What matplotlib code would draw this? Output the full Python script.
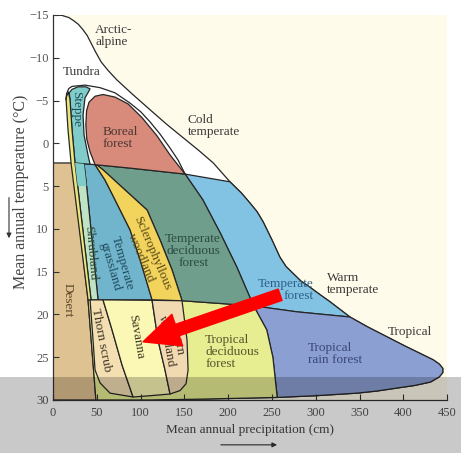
import matplotlib
matplotlib.use("Agg")
import matplotlib.pyplot as plt
from matplotlib.patches import Polygon, Rectangle, FancyArrowPatch

# ------------------------------------------------------------
#   DATA  (precipitation cm, temperature C) for every biome outline
# ------------------------------------------------------------
envelope = [(0, -15), (10, -14.95), (18, -14.7), (24, -14.3), (29, -13.9), (34, -13.3),
            (39, -12.6), (44, -11.6), (49, -10.6), (55, -9.5), (63, -8.5), (73, -7.4),
            (90, -5.8), (111, -3.9), (130, -2.2), (148, -0.7), (166, 0.8), (183, 2.3),
            (202, 4.5), (215, 5.8), (225, 7.0), (233, 8.0), (240, 9.2), (250, 11.3),
            (259, 13.3), (266, 14.4), (274, 15.2), (283, 16.1), (293, 16.8), (305, 17.7),
            (316, 18.5), (339, 20.3), (360, 21.5), (381, 22.6), (402, 23.7), (422, 24.7),
            (434, 25.3), (441, 25.8), (445, 26.3), (445, 26.8), (441, 27.3), (431, 27.9),
            (413, 28.3), (393, 28.6), (370, 28.95), (347, 29.2), (300, 29.5), (256, 29.7),
            (168, 29.9), (110, 30), (0, 30)]

desert = [(0, 2.3), (21.7, 2.3), (40, 18.3), (49, 30), (0, 30)]

semidesert_strip = [(14.8, -5.3), (17.1, -1.6), (20.6, 2.3), (40, 18.3), (43.4, 18.3),
                    (25.1, 2.3), (21.7, -1.6), (19.4, -5.1), (17.5, -6.0)]

steppe = [(18.5, -5.9), (21.7, -6.3), (28.6, -6.6), (37.7, -6.6), (42.3, -6.35), (36.5, -5.3),
          (34.3, -3.3), (35.4, -1.0), (40, 1.4), (42.3, 2.45), (25.1, 2.3), (21.7, -1.6),
          (19.4, -5.1)]

cold_outline = [(14.8, -5.1), (15.5, -5.8), (18, -6.4), (21.7, -6.65), (36.5, -6.8), (53.7, -6.5),
                (70.8, -5.9), (87.9, -4.7), (100, -3.7), (110.8, -2.5), (122, -1.1),
                (133.6, 0.55), (143, 2.0), (150.8, 3.6)]

boreal = [(48, 2.5), (42.3, 1.0), (38.5, -0.5), (37.5, -2.2), (38.3, -3.8), (41.1, -4.8), (48, -5.5),
          (57.1, -5.7), (70.8, -5.4), (85.7, -4.6), (101.6, -3.0), (118.8, -0.86),
          (133.6, 1.36), (150.8, 3.6), (88, 2.9)]

shrubland = [(25.1, 2.3), (35.4, 2.4), (38.8, 5.45), (44.5, 11.3), (51.4, 18.3), (43.4, 18.3)]
shrub_top = [(25.1, 2.3), (35.4, 2.4), (38.3, 5.0), (28.2, 5.0)]

grassland = [(35.4, 2.4), (42.3, 2.45), (48, 2.5), (59.4, 4.3), (70.8, 6.6), (87.9, 10.1),
             (99.4, 13.6), (113.1, 18.3), (51.4, 18.3), (44.5, 11.3), (38.8, 5.45)]

sclerophyllous = [(48, 2.5), (59.4, 4.3), (70.8, 6.6), (87.9, 10.1), (99.4, 13.6), (113.1, 18.3),
                  (147.3, 18.4), (135.9, 14.8), (122.2, 11.3), (107.4, 7.8), (82.2, 5.45),
                  (57.1, 3.1), (50.3, 2.55)]

temp_deciduous = [(48, 2.5), (88, 2.9), (150.8, 3.6), (171, 6.6), (191, 10.5), (210, 14.5),
                  (229, 19.0), (147.3, 18.4), (135.9, 14.8), (122.2, 11.3), (107.4, 7.8),
                  (82.2, 5.45), (57.1, 3.1), (50.3, 2.55)]

temp_forest = [(150.8, 3.6), (202, 4.5), (215, 5.8), (225, 7.0), (233, 8.0), (240, 9.2),
               (250, 11.3), (259, 13.3), (266, 14.4), (274, 15.2), (283, 16.1), (293, 16.8),
               (305, 17.7), (316, 18.5), (339, 20.3), (278.7, 19.7), (229, 19.0),
               (210, 14.5), (191, 10.5), (171, 6.6)]

rain_forest = [(229, 19.0), (278.7, 19.7), (339, 20.3), (360, 21.5), (381, 22.6), (402, 23.7),
               (422, 24.7), (434, 25.3), (441, 25.8), (445, 26.3), (445, 26.8), (441, 27.3),
               (431, 27.9), (413, 28.3), (393, 28.6), (370, 28.95), (347, 29.2), (300, 29.5),
               (256, 29.7), (251, 25.0), (244, 21.8)]

trop_deciduous = [(40, 18.3), (147.3, 18.4), (229, 19.0), (244, 21.8), (251, 25.0), (256, 29.7),
                  (168, 29.9), (110, 30), (49, 30)]

thorn_scrub = [(42.3, 18.3), (57.1, 18.3), (67.4, 21.8), (78.8, 25.9), (91.4, 29.65), (65.1, 29.2),
               (53.7, 28.0), (48, 26.5), (45.7, 23.0)]

savanna = [(57.1, 18.3), (113.1, 18.35), (119.9, 23.0), (127.9, 26.5), (133.6, 29.3),
           (110.8, 29.5), (91.4, 29.65), (78.8, 25.9), (67.4, 21.8)]

thorn_woodland = [(113.1, 18.35), (147.3, 18.4), (153, 23.0), (154.2, 26.5), (151.9, 28.1),
                  (145, 28.9), (133.6, 29.3), (127.9, 26.5), (119.9, 23.0)]

x_ticks = [0, 50, 100, 150, 200, 250, 300, 350, 400, 450]
y_ticks = [-15, -10, -5, 0, 5, 10, 15, 20, 25, 30]

arrow_tail = (259.3, 17.7)
arrow_tip = (102.8, 23.2)

# (text, x, y, rotation, ha, color)
labels = [
    ("Arctic-\nalpine", 48, -12.5, 0, "left", "#3a3a3a"),
    ("Tundra", 33, -8.3, 0, "center", "#3a3a3a"),
    ("Steppe", 26.3, -4.0, -90, "center", "#1f4f55"),
    ("Boreal\nforest", 57, -0.6, 0, "left", "#4a3632"),
    ("Cold\ntemperate", 154, -2.0, 0, "left", "#3a3a3a"),
    ("Temperate\ndeciduous\nforest", 160, 12.6, 0, "center", "#2c4a40"),
    ("Sclerophyllous\nwoodland", 107, 13.1, -67, "center", "#5a4a18"),
    ("Temperate\ngrassland", 72, 14.2, -74, "center", "#1f4a5e"),
    ("Shrubland", 42.3, 12.8, -85, "center", "#2f4a38"),
    ("Desert", 17, 18.3, -90, "center", "#5a4628"),
    ("Thorn scrub", 54.8, 23.0, -79, "center", "#3e3222"),
    ("Savanna", 94.8, 22.6, -80, "center", "#3e3a22"),
    ("Thorn\nwoodland", 136, 23.0, -80, "center", "#3e3222"),
    ("Tropical\ndeciduous\nforest", 173.6, 24.4, 0, "left", "#55552c"),
    ("Temperate\nforest", 298, 17.1, 0, "right", "#2d5f8a"),
    ("Warm\ntemperate", 313, 16.5, 0, "left", "#3a3a3a"),
    ("Tropical", 408, 22.1, 0, "center", "#3a3a3a"),
    ("Tropical\nrain forest", 291, 24.6, 0, "left", "#3a4775"),
]

# ------------------------------------------------------------
#   FIGURE
# ------------------------------------------------------------
plt.rcParams["font.family"] = ["Liberation Serif", "DejaVu Serif"]

fig = plt.figure(figsize=(4.61, 4.53), dpi=100)
ax = fig.add_axes([0.115, 0.117, 0.855, 0.850])
ax.set_facecolor("#fffbea")

edge = "#262626"
regions = [
    (envelope, "white"),
    (desert, "#dfc291"),
    (temp_forest, "#82c3e3"),
    (rain_forest, "#8b9fd3"),
    (trop_deciduous, "#e7ee92"),
    (temp_deciduous, "#6f9f8c"),
    (grassland, "#71b5cc"),
    (shrubland, "#bfe4c5"),
    (sclerophyllous, "#f2d35c"),
    (steppe, "#80cccb"),
    (boreal, "#d98b7b"),
    (thorn_scrub, "#f3dfb2"),
    (savanna, "#fbf7b5"),
    (thorn_woodland, "#f1d9b1"),
    (semidesert_strip, "#ece77a"),
]
for pts, col in regions:
    ax.add_patch(Polygon(pts, closed=True, facecolor=col, edgecolor=edge,
                         linewidth=0.9, joinstyle="round"))

ax.add_patch(Polygon(shrub_top, closed=True, facecolor="#80cccb", edgecolor="none", zorder=1.5))
ax.plot([p for p, t in cold_outline], [t for p, t in cold_outline], color=edge, lw=0.9)

for txt, x, y, rot, ha, col in labels:
    ax.text(x, y, txt, rotation=rot, ha=ha, va="center", color=col, fontsize=9.5,
            linespacing=1.0, multialignment=ha, rotation_mode="anchor", zorder=4)

ax.annotate("", xy=arrow_tip, xytext=arrow_tail, zorder=6,
            arrowprops=dict(arrowstyle="simple,head_length=26,head_width=24,tail_width=8.6",
                            mutation_scale=1, color="red", shrinkA=0, shrinkB=0))

ax.set_xlim(0, 450)
ax.set_ylim(30, -15)
ax.set_xticks(x_ticks)
ax.set_yticks(y_ticks)
ax.tick_params(direction="in", length=4, width=0.8, colors="#333333", labelcolor="#555555",
               labelsize=9)
ax.tick_params(axis="x", pad=5)
ax.tick_params(axis="y", pad=3)
for s in ["top", "right"]:
    ax.spines[s].set_visible(False)
for s in ["left", "bottom"]:
    ax.spines[s].set_color("#333333")
    ax.spines[s].set_linewidth(0.9)

fig.text(0.542, 0.051, "Mean annual precipitation (cm)", ha="center", va="center",
         fontsize=9.5, color="#444444")
fig.text(0.045, 0.576, "Mean annual temperature (\u00b0C)", rotation=90, ha="center",
         va="center", fontsize=11.5, color="#444444")

fig.add_artist(FancyArrowPatch((0.473, 0.018), (0.607, 0.018), transform=fig.transFigure,
                               arrowstyle="-|>", mutation_scale=7, color="#333333", lw=0.8))
fig.add_artist(FancyArrowPatch((0.0195, 0.570), (0.0195, 0.468), transform=fig.transFigure,
                               arrowstyle="-|>", mutation_scale=7, color="#333333", lw=0.8))

# grey band across the bottom
fig.add_artist(Rectangle((0, 0), 1, 0.168, transform=fig.transFigure,
                         facecolor="black", alpha=0.21, edgecolor="none", zorder=10))

fig.savefig("out.png", dpi=100)
